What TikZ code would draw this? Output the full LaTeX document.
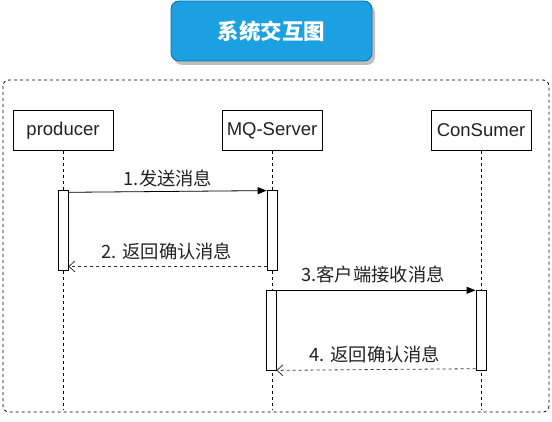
\documentclass[tikz,border=0pt]{standalone}
\usepackage{fontspec}
\setmainfont{Liberation Sans}
\newfontfamily\cjk{Noto Sans CJK SC}
\usetikzlibrary{arrows.meta,calc}
\definecolor{titlefill}{HTML}{1BA1E2}
\definecolor{titleline}{HTML}{006EAF}
\definecolor{txt}{HTML}{222222}
\tikzset{
  actor/.style={draw=black,line width=0.8pt,fill=white,minimum width=100pt,minimum height=40pt,inner sep=0pt,text=txt,font=\fontsize{18.5}{20}\selectfont},
  life/.style={draw=black,line width=0.8pt,dash pattern=on 3pt off 3pt},
  actbox/.style={draw=black,line width=0.8pt,fill=white,minimum width=10pt,inner sep=0pt},
  msg/.style={draw=black,line width=0.8pt,-{Triangle[length=9pt,width=7pt]}},
  reply/.style={draw=black!80,line width=0.8pt,dash pattern=on 3pt off 3pt,-{Straight Barb[length=6pt,width=11pt,line width=0.8pt]}},
  lbl/.style={text=txt,font=\cjk\fontsize{18.3}{20}\selectfont,inner sep=0pt}
}
\begin{document}
\begin{tikzpicture}[x=1pt,y=-1pt]
\useasboundingbox (0,0) rectangle (552,422);
% title
\fill[black!25,rounded corners=8pt] (174,5) rectangle (375,65);
\node[draw=titleline,fill=titlefill,rounded corners=8pt,line width=0.8pt,minimum width=201pt,minimum height=60pt,inner sep=0pt,text=white,font=\cjk\bfseries\fontsize{21.5}{23}\selectfont] (title) at (271.5,31) {系统交互图};
% outer frame
\draw[line width=0.8pt,dash pattern=on 3pt off 3pt,rounded corners=6pt] (3,80) rectangle (549,412);
% actors
\node[actor] (prod) at (63,130.5) {producer};
\node[actor] (mq) at (272,130.5) {MQ-Server};
\node[actor] (cons) at (481,130.5) {ConSumer};
\coordinate (prodend) at (63,410);
\coordinate (mqend) at (272,410);
\coordinate (consend) at (481,410);
\draw[life] (prod.south) -- (prodend);
\draw[life] (mq.south) -- (mqend);
\draw[life] (cons.south) -- (consend);
% activations
\node[actbox,minimum height=80pt] (pa) at (63,230) {};
\node[actbox,minimum height=80pt] (ma) at (272,230) {};
\node[actbox,minimum height=80pt] (mb) at (271,330) {};
\node[actbox,minimum height=80pt] (ca) at (481,330) {};
% messages
\draw[msg] ($(pa.north east)+(0,2.7)$) -- ($(ma.north west)+(0,1)$);
\node[lbl] (l1) at (168,178) {1.发送消息};
\draw[reply] ($(ma.south west)+(0,-4)$) -- ($(pa.south east)+(0,-4)$);
\node[lbl] (l2) at (167,251) {2. 返回确认消息};
\draw[msg] ($(mb.north east)+(0,0.7)$) -- ($(ca.north west)+(0,0.7)$);
\node[lbl] (l3) at (373,275) {3.客户端接收消息};
\draw[reply] ($(ca.south west)+(0,-1.7)$) -- ($(mb.south east)+(0,0)$);
\node[lbl] (l4) at (375,354) {4. 返回确认消息};
\end{tikzpicture}
\end{document}
